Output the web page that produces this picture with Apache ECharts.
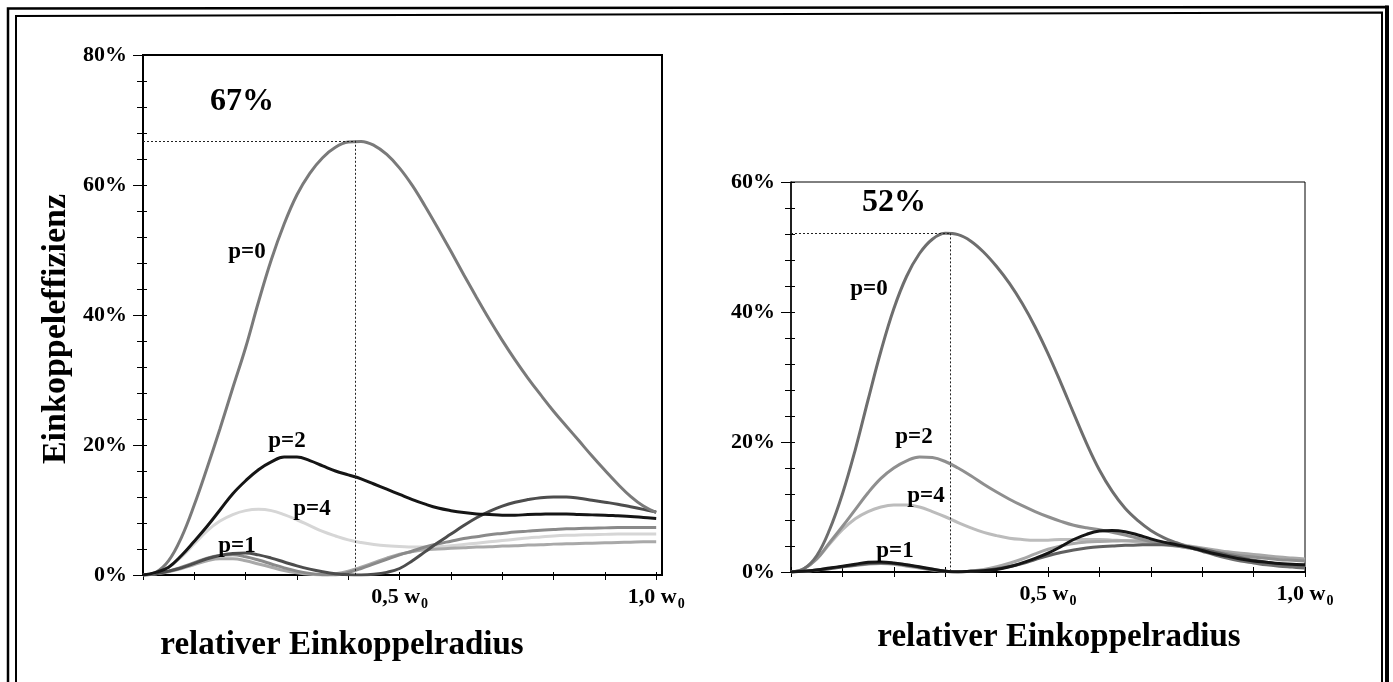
<!DOCTYPE html>
<html>
<head>
<meta charset="utf-8">
<script src="https://cdn.jsdelivr.net/npm/echarts@6/dist/echarts.min.js"></script>
<style>
html,body{margin:0;padding:0;background:#fff;}
#chart{width:1393px;height:682px;}
</style>
</head>
<body>
<div id="chart"></div>
<script>
// ---------- data ----------
const xGrid = [0,0.025,0.05,0.075,0.1,0.125,0.15,0.175,0.2,0.225,0.25,0.275,0.3,0.325,0.35,0.375,0.4,0.425,0.45,0.475,0.5,0.525,0.55,0.575,0.6,0.625,0.65,0.675,0.7,0.725,0.75,0.775,0.8,0.825,0.85,0.875,0.9,0.925,0.95,0.975,1.0];

// left panel (values in %)
const leftP0 = [0,0.4,2.2,5.8,10.8,16.5,22.5,28.8,35,42,48.5,54,58.5,61.8,64.2,65.8,66.6,66.7,66.1,64.7,62.6,59.9,56.7,53.3,49.8,46.2,42.7,39.3,36.1,33.1,30.3,27.7,25.2,22.9,20.6,18.3,16.1,14.0,12.1,10.6,9.6];
const leftP1 = [0,0.2,0.6,1.1,1.8,2.5,3.0,3.3,3.4,3.1,2.6,2.0,1.4,0.9,0.5,0.2,0.05,0,0.1,0.4,1.0,2.2,3.6,5.0,6.3,7.6,8.8,9.8,10.6,11.2,11.6,11.9,12.0,12.0,11.8,11.5,11.2,10.9,10.5,10.1,9.7];
const leftP2 = [0,0.4,1.2,3,5.2,7.5,10,12.5,14.5,16.2,17.4,18.15,18.15,17.6,16.8,16,15.4,14.8,14,13.2,12.4,11.6,10.9,10.3,9.9,9.6,9.4,9.3,9.2,9.2,9.3,9.35,9.4,9.4,9.3,9.25,9.2,9.1,9.0,8.85,8.7];
const leftP3 = [0,0.2,0.6,1.2,1.9,2.6,3.0,3.1,2.8,2.3,1.7,1.1,0.6,0.25,0.05,0,0.4,1.0,1.7,2.4,3.1,3.7,4.3,4.8,5.2,5.6,5.9,6.2,6.4,6.6,6.75,6.9,7.0,7.1,7.15,7.2,7.25,7.3,7.3,7.3,7.3];
const leftP4 = [0,0.3,1.2,2.8,4.8,6.8,8.3,9.3,9.9,10.1,9.9,9.3,8.5,7.6,6.7,6,5.4,5,4.7,4.5,4.4,4.3,4.3,4.35,4.5,4.7,4.9,5.1,5.3,5.5,5.7,5.85,6.0,6.1,6.15,6.2,6.25,6.3,6.3,6.3,6.3];
const leftP5 = [0,0.2,0.5,1.0,1.6,2.2,2.5,2.5,2.2,1.7,1.2,0.7,0.35,0.1,0,0.2,0.6,1.2,1.9,2.6,3.2,3.6,3.9,4.0,4.1,4.2,4.3,4.35,4.45,4.5,4.6,4.65,4.75,4.8,4.85,4.9,4.95,5.0,5.05,5.1,5.1];

// right panel (values in %)
const rightP0 = [0,0.5,2.5,6.5,12,18.8,26.5,34,40.5,45.5,49,51.2,52.1,51.9,50.9,49.2,47,44.4,41.3,37.7,33.6,29.1,24.4,19.8,15.7,12.4,9.8,7.9,6.4,5.3,4.5,3.8,3.2,2.6,2.1,1.7,1.4,1.1,0.9,0.75,0.6];
const rightP1 = [0,0.1,0.3,0.6,0.9,1.2,1.5,1.55,1.4,1.1,0.8,0.45,0.1,0.02,0.1,0.2,0.4,0.8,1.4,2.1,2.9,3.9,5.0,5.8,6.3,6.4,6.2,5.7,5.1,4.6,4.2,3.8,3.3,2.8,2.4,2.0,1.7,1.5,1.3,1.2,1.1];
const rightP2 = [0,0.5,2,4.5,7,9.6,12.2,14.4,16,17.1,17.7,17.6,17,16,14.8,13.5,12.3,11.2,10.2,9.3,8.5,7.8,7.2,6.8,6.5,6.1,5.7,5.2,4.7,4.3,4.0,3.7,3.4,3.1,2.8,2.5,2.3,2.1,1.9,1.8,1.7];
const rightP3 = [0,0.1,0.3,0.5,0.8,1.05,1.3,1.4,1.3,1.05,0.7,0.4,0.15,0,0.1,0.25,0.5,0.85,1.3,1.9,2.5,3.0,3.4,3.7,3.9,4.0,4.1,4.15,4.2,4.2,4.1,3.85,3.5,3.05,2.6,2.2,1.8,1.5,1.2,1.0,0.8];
const rightP4 = [0,0.5,2,4.3,6.5,8.2,9.3,10,10.3,10.3,10.0,9.3,8.5,7.6,6.8,6.1,5.6,5.2,5.0,4.9,4.9,5.0,5.0,5.0,5.0,4.9,4.8,4.6,4.4,4.2,4.0,3.7,3.4,3.1,2.8,2.6,2.4,2.2,2.1,2.0,1.9];
const rightP5 = [0,0.1,0.3,0.55,0.8,1.0,1.2,1.3,1.2,0.9,0.6,0.3,0.1,0,0.15,0.4,0.8,1.35,2.0,2.8,3.5,4.0,4.4,4.6,4.7,4.75,4.8,4.8,4.7,4.55,4.3,4.0,3.7,3.4,3.1,2.9,2.7,2.5,2.3,2.15,2.0];

// peaks marked by dotted lines [x, %]
const peakLeft = [0.413, 66.8];
const peakRight = [0.31, 52.1];
const peakLabels = ['67%', '52%'];

// axis ticks / labels
const xTickValues = [0,0.1,0.2,0.3,0.4,0.5,0.6,0.7,0.8,0.9,1.0];
const xLabelValues = [0.5, 1.0];
const xTickLabels = ['0,5 w', '1,0 w'];
const yMaxLeft = 80, yMaxRight = 60;

const curveLabels = ['p=0','p=1','p=2','p=4'];
const xTitle = 'relativer Einkoppelradius';
const yTitle = 'Einkoppeleffizienz';

// ---------- chart ----------
const FONT = '"Liberation Serif", "Times New Roman", serif';
const pairs = ys => xGrid.map((x, i) => [x, ys[i]]);

function xAxes(grid, max, inLen) {
  return [
    {
      gridIndex: grid, type: 'value', min: 0, max: max, position: 'bottom',
      axisLine: { lineStyle: { color: '#000', width: 2 } },
      axisTick: { customValues: xTickValues, inside: false, length: 5, lineStyle: { color: '#000', width: 1 } },
      axisLabel: {
        customValues: xLabelValues, margin: 8,
        formatter: v => {
          const i = xLabelValues.findIndex(t => Math.abs(t - v) < 1e-6);
          return i < 0 ? '' : '{m|' + xTickLabels[i] + '}{s|0}';
        },
        rich: {
          m: { fontSize: 22, fontWeight: 'bold', fontFamily: FONT, color: '#000' },
          s: { fontSize: 14, fontWeight: 'bold', fontFamily: FONT, color: '#000', padding: [14, 0, 0, 1] }
        }
      },
      splitLine: { show: false }
    },
    {
      gridIndex: grid, type: 'value', min: 0, max: max, position: 'bottom', offset: 0,
      axisLine: { show: false },
      axisTick: { customValues: xTickValues, inside: true, length: inLen, lineStyle: { color: '#000', width: 1 } },
      axisLabel: { show: false }, splitLine: { show: false }
    }
  ];
}
function yAxes(grid, max) {
  return [
    {
      gridIndex: grid, type: 'value', min: 0, max: max, interval: 20, position: 'left',
      axisLine: { lineStyle: { color: '#000', width: 1.5 } },
      axisTick: { inside: false, length: 10, lineStyle: { color: '#000', width: 1 } },
      minorTick: { show: true, splitNumber: 5, length: 6, lineStyle: { color: '#000', width: 1 } },
      axisLabel: { formatter: '{value}%', margin: 16, fontSize: 22, fontWeight: 'bold', fontFamily: FONT, color: '#000' },
      splitLine: { show: false }, minorSplitLine: { show: false }
    },
    {
      gridIndex: grid, type: 'value', min: 0, max: max, interval: 4, position: 'left', offset: 0,
      axisLine: { show: false },
      axisTick: { inside: true, length: 4, lineStyle: { color: '#000', width: 1 } },
      axisLabel: { show: false }, splitLine: { show: false }
    }
  ];
}

const leftColors = { 'p=0': '#7a7a7a', 'p=1': '#4d4d4d', 'p=2': '#151515', 'p=3': '#8a8a8a', 'p=4': '#d6d6d6', 'p=5': '#a9a9a9' };
const rightColors = { 'p=0': '#6e6e6e', 'p=1': '#151515', 'p=2': '#8f8f8f', 'p=3': '#606060', 'p=4': '#bcbcbc', 'p=5': '#a8a8a8' };
const leftData = { 'p=0': leftP0, 'p=1': leftP1, 'p=2': leftP2, 'p=3': leftP3, 'p=4': leftP4, 'p=5': leftP5 };
const rightData = { 'p=0': rightP0, 'p=1': rightP1, 'p=2': rightP2, 'p=3': rightP3, 'p=4': rightP4, 'p=5': rightP5 };
const leftOrder = ['p=4','p=5','p=3','p=1','p=0','p=2'];
const rightOrder = ['p=4','p=5','p=2','p=3','p=0','p=1'];

function peakMark(pk) {
  return {
    silent: true, symbol: 'none', animation: false,
    label: { show: false },
    lineStyle: { type: [2, 2], color: '#222', width: 1 },
    data: [
      [{ coord: [0, pk[1]] }, { coord: [pk[0], pk[1]] }],
      [{ coord: [pk[0], pk[1]] }, { coord: [pk[0], 0] }]
    ]
  };
}
function makeSeries(order, data, colors, xi, yi, pk) {
  return order.map(name => ({
    name: name, type: 'line', xAxisIndex: xi, yAxisIndex: yi,
    data: pairs(data[name]), smooth: 0.4, showSymbol: false, symbol: 'none',
    lineStyle: { color: colors[name], width: 3 },
    markLine: name === 'p=0' ? peakMark(pk) : undefined,
    z: 2
  }));
}

function txt(x, y, text, size, extra) {
  return Object.assign({
    type: 'text', x: x, y: y, silent: true, z: 10,
    style: { text: text, font: 'bold ' + size + 'px ' + FONT, fill: '#000', align: 'center', verticalAlign: 'middle' }
  }, extra || {});
}

const chart = echarts.init(document.getElementById('chart'), null, { renderer: 'canvas' });
chart.setOption({
  animation: false,
  backgroundColor: '#fff',
  grid: [
    { left: 143, top: 55, width: 519, height: 520, show: true, borderColor: '#000', borderWidth: 2, backgroundColor: 'transparent' },
    { left: 791, top: 182, width: 514, height: 390, show: true, borderColor: '#000', borderWidth: 1, backgroundColor: 'transparent' }
  ],
  xAxis: [].concat(xAxes(0, 1.0113, 3), xAxes(1, 1.0, 5)),
  yAxis: [].concat(yAxes(0, yMaxLeft), yAxes(1, yMaxRight)),
  series: [].concat(
    makeSeries(leftOrder, leftData, leftColors, 0, 0, peakLeft),
    makeSeries(rightOrder, rightData, rightColors, 2, 2, peakRight)
  ),
  graphic: [
    // frame
    { type: 'polyline', silent: true, shape: { points: [[8, 700], [8, 8.5], [1387, 7], [1387, 700]] }, style: { stroke: '#000', lineWidth: 2.5, fill: null } },
    { type: 'line', silent: true, shape: { x1: 1387, y1: 5.5, x2: 1387, y2: 700 }, style: { stroke: '#000', lineWidth: 4 } },
    { type: 'polyline', silent: true, shape: { points: [[16, 700], [16, 16], [1382, 12.5], [1382, 700]] }, style: { stroke: '#000', lineWidth: 2, fill: null } },
    // axis titles
    txt(56, 329, yTitle, 34, { rotation: Math.PI / 2 }),
    txt(342, 645, xTitle, 33),
    txt(1059, 637, xTitle, 33),
    // peak values
    txt(242, 102, peakLabels[0], 32),
    txt(894, 203, peakLabels[1], 32),
    // curve labels left
    txt(247, 252, curveLabels[0], 23),
    txt(237, 546, curveLabels[1], 23),
    txt(287, 441, curveLabels[2], 23),
    txt(312, 509, curveLabels[3], 23),
    // curve labels right
    txt(869, 289, curveLabels[0], 23),
    txt(895, 551, curveLabels[1], 23),
    txt(914, 437, curveLabels[2], 23),
    txt(926, 496, curveLabels[3], 23)
  ]
});
</script>
</body>
</html>
